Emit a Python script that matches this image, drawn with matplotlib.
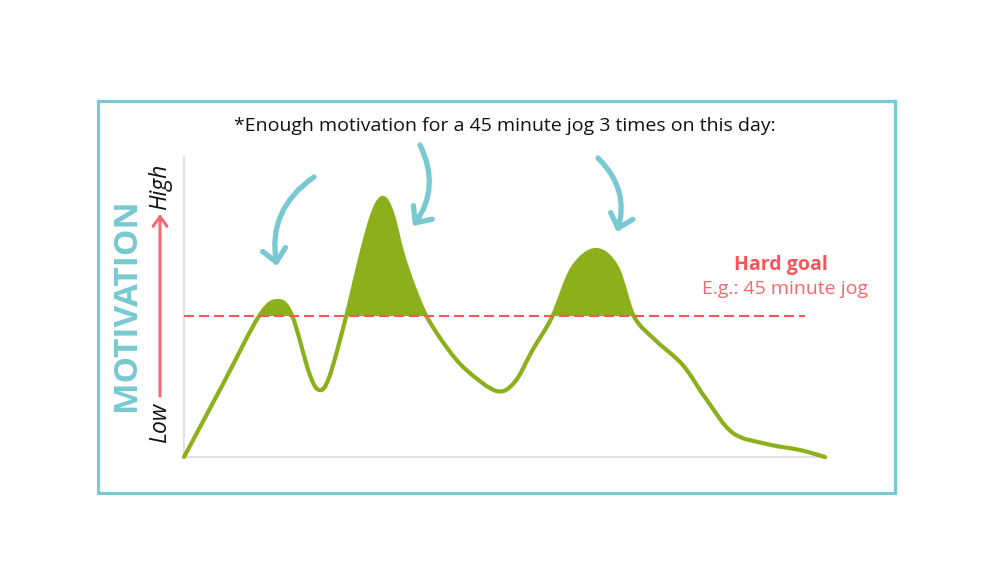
import matplotlib
matplotlib.use("Agg")
import matplotlib.pyplot as plt
from matplotlib.patches import FancyArrowPatch, Rectangle, PathPatch
from matplotlib.path import Path
import numpy as np

plt.rcParams['font.family'] = ['Open Sans', 'DejaVu Sans']

# ---- data (time of day 0..100, motivation 0..100) ----
time_pts = [0.0, 6.0, 11.72, 14.69, 16.88, 19.53, 21.09, 22.66, 25.31,
            27.81, 29.6, 31.09, 32.5, 34.06, 35.8, 37.81, 41.0, 44.06, 48.75,
            51.6, 54.38, 57.5, 60.63, 64.22, 67.5, 70.16, 73.6, 77.81, 81.56,
            85.63, 90.94, 96.09, 100.0]
motivation = [0.0, 24.0, 47.0, 52.0, 47.0, 28.0, 22.33, 26.67, 47.0,
              69.0, 82.0, 86.33, 81.0, 68.0, 57.0, 47.0, 36.5, 29.0, 22.0,
              25.0, 35.67, 47.0, 63.0, 69.0, 63.33, 47.0, 38.8, 30.67, 19.0,
              8.0, 4.33, 2.33, 0.0]
goal_level = 47.0
goal_end = 96.9

title_text = "*Enough motivation for a 45 minute jog 3 times on this day:"
goal_title = "Hard goal"
goal_sub = "E.g.: 45 minute jog"

GREEN = '#8caf1c'
RED = '#f4565c'
TEAL = '#78c9d1'

W, H = 1000, 587
fig = plt.figure(figsize=(W / 100, H / 100), dpi=100)
fig.patch.set_facecolor('white')

def fx(px):
    return px / W

def fy(py):
    return 1 - py / H

# frame
fig.patches.append(Rectangle((fx(98), fy(493)), fx(895) - fx(98), fy(101) - fy(493),
                             transform=fig.transFigure, fill=False,
                             edgecolor=TEAL, linewidth=2.3, zorder=0))

ax = fig.add_axes([fx(184), fy(457), fx(825) - fx(184), fy(157) - fy(457)])
pts = np.column_stack([time_pts, motivation])


def smooth_path_vertices(p):
    """Catmull-Rom through the points, rendered as cubic Bezier segments."""
    ext = np.vstack([p[0], p, p[-1]])
    verts = [p[0]]
    codes = [Path.MOVETO]
    for i in range(1, len(ext) - 2):
        p0, p1, p2, p3 = ext[i - 1], ext[i], ext[i + 1], ext[i + 2]
        c1 = p1 + (p2 - p0) / 6.0
        c2 = p2 - (p3 - p1) / 6.0
        verts += [c1, c2, p2]
        codes += [Path.CURVE4] * 3
    return verts, codes


verts, codes = smooth_path_vertices(pts)
line_path = Path(verts, codes)

# area under the curve, clipped to above the goal line
area_verts = verts + [(pts[-1, 0], 0.0), (pts[0, 0], 0.0), verts[0]]
area_codes = codes + [Path.LINETO, Path.LINETO, Path.CLOSEPOLY]
area = PathPatch(Path(area_verts, area_codes), facecolor=GREEN, edgecolor='none',
                 zorder=2)
ax.add_patch(area)
clip_rect = Rectangle((0, goal_level), 100, 100 - goal_level, transform=ax.transData,
                      facecolor='none', edgecolor='none')
ax.add_patch(clip_rect)
area.set_clip_path(clip_rect)

ax.add_patch(PathPatch(line_path, facecolor='none', edgecolor=GREEN, linewidth=3.0,
                       joinstyle='round', capstyle='round', clip_on=False, zorder=3))
ax.plot([0, goal_end], [goal_level, goal_level], color=RED, linewidth=1.5,
        dashes=(4.8, 2.4), zorder=4)
ax.set_xlim(0, 100)
ax.set_ylim(0, 100)
ax.set_xticks([])
ax.set_yticks([])
for s in ['top', 'right']:
    ax.spines[s].set_visible(False)
for s in ['left', 'bottom']:
    ax.spines[s].set_color('#e2e2e2')
    ax.spines[s].set_linewidth(1.5)
ax.patch.set_alpha(0)

# texts
fig.text(fx(505), fy(126), title_text, ha='center', va='center', fontsize=14,
         color='#111111')
fig.text(fx(127), fy(305), 'MOTIVATION', ha='center', va='center', rotation=90,
         fontsize=24, fontweight='bold', color=TEAL)
fig.text(fx(160), fy(423), 'Low', ha='center', va='center', rotation=90,
         fontsize=16.5, style='italic', color='#111111')
fig.text(fx(160), fy(187), 'High', ha='center', va='center', rotation=90,
         fontsize=16.5, style='italic', color='#111111')
fig.text(fx(781), fy(265), goal_title, ha='center', va='center', fontsize=14,
         fontweight='bold', color=RED)
fig.text(fx(785), fy(289), goal_sub, ha='center', va='center', fontsize=14,
         color='#f4686d')

# red low->high arrow
fig.patches.append(FancyArrowPatch((fx(160), fy(396)), (fx(160), fy(214)),
                                   transform=fig.transFigure,
                                   arrowstyle='->,head_length=0.35,head_width=0.25',
                                   mutation_scale=20, color='#f26a72', linewidth=2.2,
                                   shrinkA=0, shrinkB=0, capstyle='round',
                                   joinstyle='round'))

# teal curved arrows
arrows = [((314, 177), (277, 266), 0.32),
          ((420, 145), (413, 226), -0.3),
          ((598, 158), (617, 232), -0.3)]
for (p0, p1, rad) in arrows:
    fig.patches.append(FancyArrowPatch((fx(p0[0]), fy(p0[1])), (fx(p1[0]), fy(p1[1])),
                                       transform=fig.transFigure,
                                       connectionstyle=f'arc3,rad={rad}',
                                       arrowstyle='->,head_length=0.42,head_width=0.38',
                                       mutation_scale=22, color=TEAL, linewidth=3.8,
                                       shrinkA=0, shrinkB=0, capstyle='round',
                                       joinstyle='round'))

fig.savefig('out.png', dpi=100)
